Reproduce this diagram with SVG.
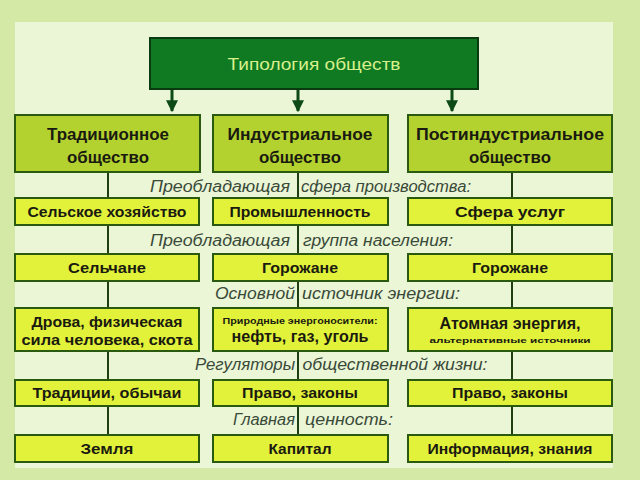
<svg xmlns="http://www.w3.org/2000/svg" width="640" height="480" viewBox="0 0 640 480">
<style>
.h{fill:#b3d230;stroke:#2a5a10;stroke-width:2}
.b{fill:#e2f23a;stroke:#2a5a10;stroke-width:2}
.t{font-family:"Liberation Sans",Arial,sans-serif;font-weight:bold;fill:#1a1a10;text-anchor:middle}
.l{font-family:"Liberation Sans",Arial,sans-serif;font-style:italic;fill:#3a4a3a;font-size:16px;text-anchor:middle}
.c{stroke:#1f3f10;stroke-width:2;fill:none}
.ar{stroke:#0d4a16;stroke-width:3;fill:none}
</style>
<defs><marker id="a" viewBox="0 0 10 10" refX="9" refY="5" markerWidth="4" markerHeight="4" orient="auto"><path d="M0,0L10,5L0,10z" fill="#0d4a16"/></marker></defs>
<rect width="640" height="480" fill="#d5e9a6"/>
<rect x="15" y="22" width="598" height="446" fill="#eaf6d6"/>
<g id="connectors">
<path class="ar" d="M172,89V111" marker-end="url(#a)"/>
<path class="ar" d="M298,89V111" marker-end="url(#a)"/>
<path class="ar" d="M452,89V111" marker-end="url(#a)"/>
<path class="c" d="M108,172V435M298,172V435M512,172V435"/>
</g>
<g id="labels">
<rect x="140" y="176" width="360" height="21" fill="#eaf6d6"/>
<rect x="140" y="230" width="340" height="21" fill="#eaf6d6"/>
<rect x="200" y="283" width="280" height="21" fill="#eaf6d6"/>
<rect x="170" y="354" width="340" height="21" fill="#eaf6d6"/>
<rect x="215" y="410" width="190" height="21" fill="#eaf6d6"/>
<path class="c" d="M298,176V198M298,230V254M298,283V308M298,354V380M298,410V435"/>
<text class="l" x="220" y="192" textLength="140" lengthAdjust="spacingAndGlyphs">Преобладающая</text><text class="l" x="386" y="192" textLength="170" lengthAdjust="spacingAndGlyphs">сфера производства:</text>
<text class="l" x="220" y="246" textLength="140" lengthAdjust="spacingAndGlyphs">Преобладающая</text><text class="l" x="378" y="246" textLength="150" lengthAdjust="spacingAndGlyphs">группа населения:</text>
<text class="l" x="255" y="299" textLength="80" lengthAdjust="spacingAndGlyphs">Основной</text><text class="l" x="381" y="299" textLength="158" lengthAdjust="spacingAndGlyphs">источник энергии:</text>
<text class="l" x="245" y="370" textLength="100" lengthAdjust="spacingAndGlyphs">Регуляторы</text><text class="l" x="395" y="370" textLength="185" lengthAdjust="spacingAndGlyphs">общественной жизни:</text>
<text class="l" x="264" y="425" textLength="62" lengthAdjust="spacingAndGlyphs">Главная</text><text class="l" x="349" y="425" textLength="88" lengthAdjust="spacingAndGlyphs">ценность:</text>
</g>
<g id="root"><rect x="150" y="38" width="328" height="51" fill="#0f7a22" stroke="#0a3a10" stroke-width="2"/><text class="t" x="314" y="70" font-size="16" style="fill:#d8f08c;font-weight:normal" textLength="173" lengthAdjust="spacingAndGlyphs">Типология обществ</text></g>
<g id="trad"><rect class="h" x="15" y="115" width="185" height="57"/><text class="t" x="108" y="140" font-size="17" textLength="122" lengthAdjust="spacingAndGlyphs">Традиционное</text><text class="t" x="108" y="163" font-size="17" textLength="82" lengthAdjust="spacingAndGlyphs">общество</text></g>
<g id="ind"><rect class="h" x="213" y="115" width="175" height="57"/><text class="t" x="300" y="140" font-size="17" textLength="145" lengthAdjust="spacingAndGlyphs">Индустриальное</text><text class="t" x="300" y="163" font-size="17" textLength="82" lengthAdjust="spacingAndGlyphs">общество</text></g>
<g id="post"><rect class="h" x="408" y="115" width="204" height="57"/><text class="t" x="510" y="140" font-size="17" textLength="188" lengthAdjust="spacingAndGlyphs">Постиндустриальное</text><text class="t" x="510" y="163" font-size="17" textLength="82" lengthAdjust="spacingAndGlyphs">общество</text></g>
<g id="r2a"><rect class="b" x="15" y="198" width="184" height="27"/><text class="t" x="107" y="217" font-size="15" textLength="159" lengthAdjust="spacingAndGlyphs">Сельское хозяйство</text></g>
<g id="r2b"><rect class="b" x="213" y="198" width="175" height="27"/><text class="t" x="300" y="217" font-size="15" textLength="141" lengthAdjust="spacingAndGlyphs">Промышленность</text></g>
<g id="r2c"><rect class="b" x="408" y="198" width="204" height="27"/><text class="t" x="510" y="217" font-size="15" textLength="110" lengthAdjust="spacingAndGlyphs">Сфера услуг</text></g>
<g id="r3a"><rect class="b" x="15" y="254" width="184" height="27"/><text class="t" x="107" y="273" font-size="15" textLength="78" lengthAdjust="spacingAndGlyphs">Сельчане</text></g>
<g id="r3b"><rect class="b" x="213" y="254" width="175" height="27"/><text class="t" x="300" y="273" font-size="15" textLength="76" lengthAdjust="spacingAndGlyphs">Горожане</text></g>
<g id="r3c"><rect class="b" x="408" y="254" width="204" height="27"/><text class="t" x="510" y="273" font-size="15" textLength="76" lengthAdjust="spacingAndGlyphs">Горожане</text></g>
<g id="r4a"><rect class="b" x="15" y="308" width="184" height="43"/><text class="t" x="107" y="327" font-size="15" textLength="151" lengthAdjust="spacingAndGlyphs">Дрова, физическая</text><text class="t" x="107" y="345" font-size="15" textLength="171" lengthAdjust="spacingAndGlyphs">сила человека, скота</text></g>
<g id="r4b"><rect class="b" x="213" y="308" width="175" height="43"/><text class="t" x="300" y="324" font-size="9" textLength="155" lengthAdjust="spacingAndGlyphs">Природные энергоносители:</text><text class="t" x="300" y="342" font-size="16" textLength="137" lengthAdjust="spacingAndGlyphs">нефть, газ, уголь</text></g>
<g id="r4c"><rect class="b" x="408" y="308" width="204" height="43"/><text class="t" x="510" y="329" font-size="16" textLength="141" lengthAdjust="spacingAndGlyphs">Атомная энергия,</text><text class="t" x="510" y="343" font-size="8" textLength="161" lengthAdjust="spacingAndGlyphs">альтернативные источники</text></g>
<g id="r5a"><rect class="b" x="15" y="380" width="184" height="26"/><text class="t" x="107" y="398" font-size="15" textLength="149" lengthAdjust="spacingAndGlyphs">Традиции, обычаи</text></g>
<g id="r5b"><rect class="b" x="213" y="380" width="175" height="26"/><text class="t" x="300" y="398" font-size="15" textLength="116" lengthAdjust="spacingAndGlyphs">Право, законы</text></g>
<g id="r5c"><rect class="b" x="408" y="380" width="204" height="26"/><text class="t" x="510" y="398" font-size="15" textLength="116" lengthAdjust="spacingAndGlyphs">Право, законы</text></g>
<g id="r6a"><rect class="b" x="15" y="435" width="184" height="27"/><text class="t" x="107" y="454" font-size="15" textLength="53" lengthAdjust="spacingAndGlyphs">Земля</text></g>
<g id="r6b"><rect class="b" x="213" y="435" width="175" height="27"/><text class="t" x="300" y="454" font-size="15" textLength="63" lengthAdjust="spacingAndGlyphs">Капитал</text></g>
<g id="r6c"><rect class="b" x="408" y="435" width="204" height="27"/><text class="t" x="510" y="454" font-size="15" textLength="165" lengthAdjust="spacingAndGlyphs">Информация, знания</text></g>
</svg>
